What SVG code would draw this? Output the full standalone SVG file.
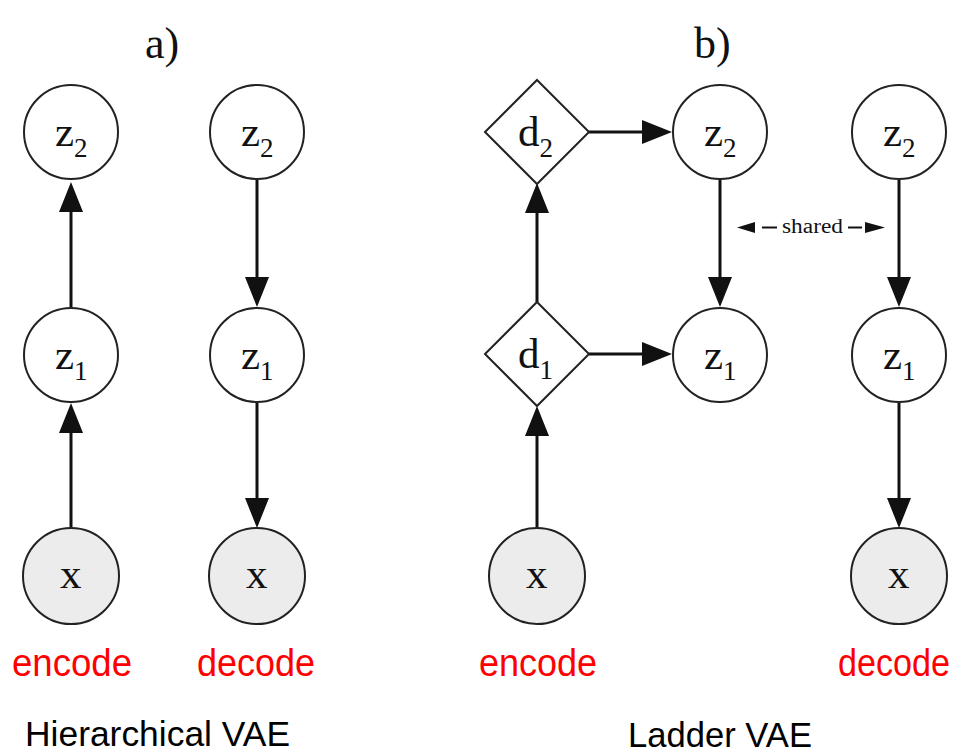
<svg xmlns="http://www.w3.org/2000/svg" width="965" height="754" viewBox="0 0 965 754">
<defs>
<marker id="ah" markerUnits="userSpaceOnUse" markerWidth="32" markerHeight="26" viewBox="0 -13 32 26" refX="0" refY="0" orient="auto">
<path d="M0,-12 L30,0 L0,12 Z" fill="#111"/>
</marker>
</defs>
<style>
.n{fill:#fff;stroke:#222;stroke-width:2}
.obs{fill:#ececec;stroke:#222;stroke-width:2}
.e{stroke:#111;stroke-width:3;fill:none;marker-end:url(#ah)}
.m{font-family:"Liberation Serif","Times New Roman",serif;font-size:43px;fill:#111}
.s{font-size:27px}
.t{font-family:"Liberation Serif","Times New Roman",serif;font-size:44px;fill:#111}
.r{font-family:"Liberation Sans",Arial,sans-serif;font-size:39px;fill:#ff0000}
.c{font-family:"Liberation Sans",Arial,sans-serif;font-size:35px;fill:#000}
.sh{fill:#111}
</style>
<rect width="965" height="754" fill="#fff"/>
<text class="t" x="145" y="58">a)</text>
<text class="t" x="694" y="58">b)</text>

<g id="connectors">
<path class="e" d="M71,307 V212"/>
<path class="e" d="M71,527 V433"/>
<path class="e" d="M257,180 V277"/>
<path class="e" d="M257,403 V498"/>
<path class="e" d="M537,302 V213"/>
<path class="e" d="M537,527 V436"/>
<path class="e" d="M589,132 H642"/>
<path class="e" d="M589,354 H642"/>
<path class="e" d="M720,180 V277"/>
<path class="e" d="M899,180 V277"/>
<path class="e" d="M899,403 V498"/>
</g>

<g id="shared">
<path class="sh" d="M737,227.5 L755,222 L755,233 Z"/>
<path class="sh" d="M885,227.5 L865,222 L865,233 Z"/>
<line x1="762" y1="227.5" x2="777" y2="227.5" stroke="#111" stroke-width="2"/>
<line x1="848" y1="227.5" x2="862" y2="227.5" stroke="#111" stroke-width="2"/>
<text x="782" y="233" font-family="Liberation Serif,serif" font-size="20" textLength="61" lengthAdjust="spacingAndGlyphs" fill="#111">shared</text>
</g>

<g id="a-enc-z2"><circle class="n" cx="71" cy="132" r="47"/><text class="m" x="55" y="146">z<tspan class="s" dy="11">2</tspan></text></g>
<g id="a-enc-z1"><circle class="n" cx="71" cy="355" r="47"/><text class="m" x="55" y="369">z<tspan class="s" dy="11">1</tspan></text></g>
<g id="a-enc-x"><circle class="obs" cx="71" cy="576" r="48"/><text class="m" x="60" y="588">x</text></g>

<g id="a-dec-z2"><circle class="n" cx="257" cy="132" r="47"/><text class="m" x="241" y="146">z<tspan class="s" dy="11">2</tspan></text></g>
<g id="a-dec-z1"><circle class="n" cx="257" cy="355" r="47"/><text class="m" x="241" y="369">z<tspan class="s" dy="11">1</tspan></text></g>
<g id="a-dec-x"><circle class="obs" cx="257" cy="576" r="48"/><text class="m" x="246" y="588">x</text></g>

<g id="b-d2"><path class="n" d="M537,80 L589,132 L537,184 L485,132 Z"/><text class="m" x="518" y="146">d<tspan class="s" dy="11">2</tspan></text></g>
<g id="b-d1"><path class="n" d="M537,302 L589,354 L537,406 L485,354 Z"/><text class="m" x="518" y="368">d<tspan class="s" dy="11">1</tspan></text></g>
<g id="b-enc-x"><circle class="obs" cx="537" cy="576" r="48"/><text class="m" x="526" y="588">x</text></g>

<g id="b-z2"><circle class="n" cx="720" cy="132" r="47"/><text class="m" x="704" y="146">z<tspan class="s" dy="11">2</tspan></text></g>
<g id="b-z1"><circle class="n" cx="720" cy="355" r="47"/><text class="m" x="704" y="369">z<tspan class="s" dy="11">1</tspan></text></g>

<g id="b-dec-z2"><circle class="n" cx="899" cy="132" r="47"/><text class="m" x="883" y="146">z<tspan class="s" dy="11">2</tspan></text></g>
<g id="b-dec-z1"><circle class="n" cx="899" cy="355" r="47"/><text class="m" x="883" y="369">z<tspan class="s" dy="11">1</tspan></text></g>
<g id="b-dec-x"><circle class="obs" cx="899" cy="576" r="48"/><text class="m" x="888" y="588">x</text></g>

<text class="r" x="12" y="676" textLength="120" lengthAdjust="spacingAndGlyphs">encode</text>
<text class="r" x="197" y="676" textLength="118" lengthAdjust="spacingAndGlyphs">decode</text>
<text class="r" x="479" y="676" textLength="118" lengthAdjust="spacingAndGlyphs">encode</text>
<text class="r" x="838" y="676" textLength="112" lengthAdjust="spacingAndGlyphs">decode</text>
<text class="c" x="25" y="746" textLength="265" lengthAdjust="spacingAndGlyphs">Hierarchical VAE</text>
<text class="c" x="628" y="747" textLength="184" lengthAdjust="spacingAndGlyphs">Ladder VAE</text>
</svg>
